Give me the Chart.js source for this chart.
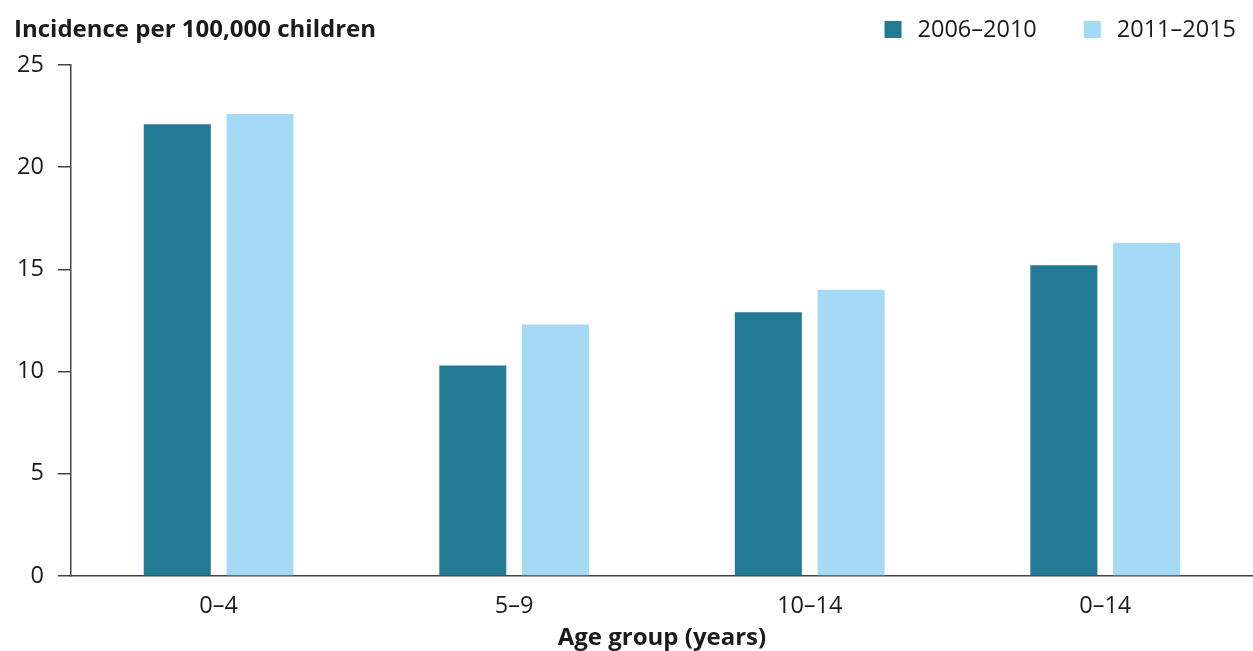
<!DOCTYPE html>
<html>
<head>
<meta charset="utf-8">
<script src="https://cdn.jsdelivr.net/npm/chart.js@4"></script>
<style>
  body { margin: 0; background: #fff; }
  #wrap { width: 1253px; height: 651px; position: relative; }
</style>
</head>
<body>
<div id="wrap"><canvas id="incidenceChart"></canvas></div>
<script>
const ageGroups = ['0–4', '5–9', '10–14', '0–14'];
const series2006 = [22.1, 10.3, 12.9, 15.2];
const series2011 = [22.6, 12.3, 14.0, 16.3];
const seriesLabels = ['2006–2010', '2011–2015'];
const seriesColors = ['#237a94', '#a4daf3'];
const yTicks = [0, 5, 10, 15, 20, 25];
const yTitle = 'Incidence per 100,000 children';
const xTitle = 'Age group (years)';

const FONT = "'Open Sans', 'Noto Sans', sans-serif";
const FS = 23.5;
const TEXT = '#1a1a1a';

// y title top-left and legend top-right
const headerPlugin = {
  id: 'header',
  afterDraw(chart) {
    const ctx = chart.ctx;
    ctx.save();
    ctx.fillStyle = TEXT;
    ctx.textBaseline = 'middle';
    ctx.font = 'bold 24px ' + FONT;
    ctx.textAlign = 'left';
    ctx.fillText(yTitle, 14, 30);

    ctx.font = FS + 'px ' + FONT;
    const right = 1236;
    const gap = 47;
    const box = 17;
    let x = right;
    const items = seriesLabels.map((t, i) => ({ t, c: seriesColors[i], w: ctx.measureText(t).width }));
    for (let i = items.length - 1; i >= 0; i--) {
      const it = items[i];
      x -= it.w;
      ctx.fillStyle = TEXT;
      ctx.fillText(it.t, x, 30);
      x -= 16 + box;
      ctx.fillStyle = it.c;
      ctx.fillRect(x, 21, box, box);
      x -= gap;
    }
    ctx.restore();
  }
};

const ctx = document.getElementById('incidenceChart').getContext('2d');
new Chart(ctx, {
  type: 'bar',
  data: {
    labels: ageGroups,
    datasets: [
      { label: seriesLabels[0], data: series2006, backgroundColor: seriesColors[0] },
      { label: seriesLabels[1], data: series2011, backgroundColor: seriesColors[1] }
    ]
  },
  options: {
    responsive: true,
    maintainAspectRatio: false,
    animation: false,
    categoryPercentage: 0.56,
    barPercentage: 0.81,
    layout: { padding: { top: 65, left: 3, right: 0, bottom: -2 } },
    plugins: {
      legend: { display: false },
      tooltip: { enabled: false }
    },
    scales: {
      x: {
        grid: { display: false, drawTicks: false },
        border: { display: true, color: '#444', width: 1.5 },
        ticks: { color: TEXT, font: { family: FONT, size: FS }, padding: 16 },
        title: {
          display: true, text: xTitle, color: TEXT,
          font: { family: FONT, size: 24, weight: 'bold' }, padding: { top: -12, bottom: 0 }
        }
      },
      y: {
        min: 0, max: 25,
        afterBuildTicks(axis) { axis.ticks = yTicks.map(v => ({ value: v })); },
        grid: { drawOnChartArea: false, drawTicks: true, tickLength: 13, color: '#444', lineWidth: 1.5 },
        border: { display: true, color: '#444', width: 1.5 },
        ticks: { color: TEXT, font: { family: FONT, size: FS }, padding: 14 }
      }
    }
  },
  plugins: [headerPlugin]
});
</script>
</body>
</html>
